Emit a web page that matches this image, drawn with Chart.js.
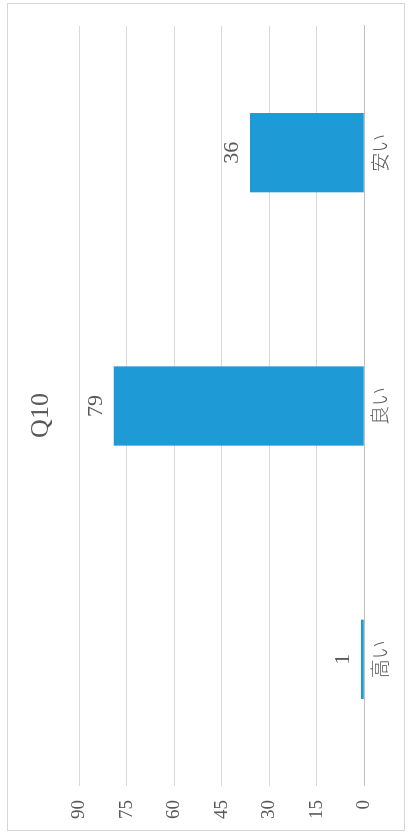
<!DOCTYPE html>
<html lang="ja">
<head>
<meta charset="utf-8">
<title>Q10</title>
<script src="https://cdn.jsdelivr.net/npm/chart.js@4.4.1/dist/chart.umd.min.js"></script>
<style>
  html, body { margin: 0; padding: 0; background: #fff; overflow: hidden; }
  /* the chart is laid out landscape and turned a quarter turn to stand upright */
  #turn {
    position: absolute; left: 0; top: 837px;
    width: 837px; height: 408px;
    transform: rotate(-90deg); transform-origin: 0 0;
  }
  #frame {
    position: absolute; left: 6px; top: 7px;
    width: 826px; height: 396px;
    border: 1px solid #d6d6d6;
  }
  #q10Chart { position: absolute; left: 0; top: 0; }
</style>
</head>
<body>
<div id="turn">
  <div id="frame"></div>
  <canvas id="q10Chart" width="837" height="408"></canvas>
</div>
<script>
const categories = ['高い', '良い', '安い'];
const counts = [1, 79, 36];
const tickValues = [0, 15, 30, 45, 60, 75, 90];
const chartTitle = 'Q10';

// title centred on the whole frame, value labels just past each bar end
const textLayer = {
    id: 'textLayer',
    afterDatasetsDraw(chart) {
        const ctx = chart.ctx;
        const meta = chart.getDatasetMeta(0);
        ctx.save();
        ctx.fillStyle = '#595959';
        ctx.textAlign = 'center';
        ctx.textBaseline = 'middle';

        ctx.font = '26px "Liberation Serif", serif';
        ctx.fillText(chartTitle, chart.width / 2 + 3, 41);

        ctx.font = '22px "Liberation Serif", serif';
        meta.data.forEach((bar, i) => {
            ctx.fillText(String(counts[i]), bar.x, bar.y - 18);
        });
        ctx.restore();
    }
};

new Chart(document.getElementById('q10Chart'), {
    type: 'bar',
    data: {
        labels: categories,
        datasets: [{
            label: chartTitle,
            data: counts,
            backgroundColor: '#1e9bd7',
            borderWidth: 0,
            barPercentage: 0.313,
            categoryPercentage: 1
        }]
    },
    options: {
        responsive: false,
        animation: false,
        layout: { padding: { left: 4, right: 26, top: 79, bottom: 13 } },
        plugins: {
            legend: { display: false },
            tooltip: { enabled: false },
            title: { display: false }
        },
        scales: {
            x: {
                grid: { display: false, drawTicks: false },
                border: { display: true, color: '#bfbfbf', width: 1 },
                ticks: {
                    color: '#595959',
                    padding: 4,
                    font: { family: '"Noto Sans CJK JP", sans-serif', size: 19, weight: 300 }
                }
            },
            y: {
                min: 0,
                max: 90,
                afterBuildTicks(axis) {
                    axis.ticks = tickValues.map(v => ({ value: v }));
                },
                grid: { color: '#d9d9d9', lineWidth: 1, drawTicks: false },
                border: { display: false },
                ticks: {
                    color: '#595959',
                    padding: 14,
                    font: { family: '"Liberation Serif", serif', size: 19 }
                }
            }
        }
    },
    plugins: [textLayer]
});
</script>
</body>
</html>
